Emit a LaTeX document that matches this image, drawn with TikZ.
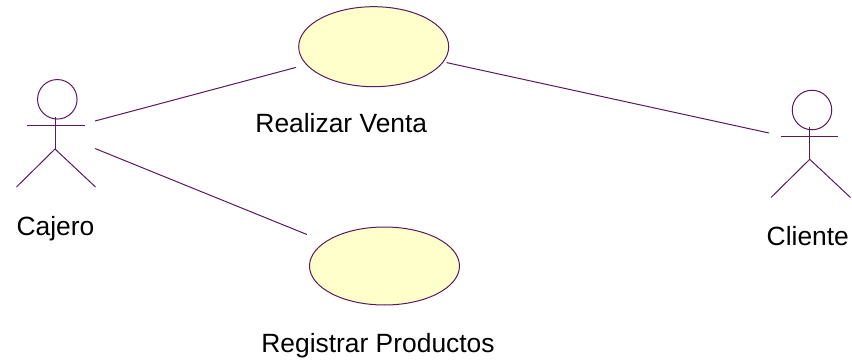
\documentclass[tikz,border=0pt]{standalone}
\usepackage{fontspec}
\setmainfont{Liberation Sans}
\usepackage{tikz}
\usetikzlibrary{positioning, shapes.geometric}
\definecolor{umlline}{HTML}{5A1A5E}
\definecolor{umlfill}{HTML}{FFFFCC}

\begin{document}
\begin{tikzpicture}
            [x=1pt, y=-1pt,
             every path/.style={draw=umlline, line width=1pt},
             usecase/.style={ellipse, draw=umlline, fill=umlfill, line width=1pt, minimum width=150pt, minimum height=80pt, inner sep=0pt},
             head/.style={circle, draw=umlline, line width=1pt, minimum size=39.5pt, inner sep=0pt},
             label/.style={font=\fontsize{26.4}{30}\selectfont, text=black, inner sep=0pt, anchor=base}]
            \useasboundingbox[draw=none] (0,0) rectangle (852,361);

            \node[usecase] (venta) at (373.7,46.7) {};
            \node[usecase, minimum height=78pt] (registrar) at (384.5,266) {};
            \node[label] (ventalabel) at (341.3,132.3) {Realizar Venta};
            \node[label] (registrarlabel) at (378,352.7) {Registrar Productos};

            % cajero
            \node[head] (cajerohead) at (57.3,99.3) {};
            \coordinate (cajeroneck) at (55,116.7);
            \coordinate (cajerohip) at (55,149);
            \coordinate (cajeroarml) at (27,125);
            \coordinate (cajeroarmr) at (85,125);
            \coordinate (cajerolegl) at (16.5,187);
            \coordinate (cajerolegr) at (95.5,187);
            \coordinate (cajeroup) at (95,121);
            \coordinate (cajerodown) at (95,148.5);
            \node[label] (cajerolabel) at (55.5,235.7) {Cajero};
            \draw (cajeroneck) -- (cajerohip);
            \draw (cajeroarml) -- (cajeroarmr);
            \draw (cajerolegl) -- (cajerohip) -- (cajerolegr);

            % cliente
            \node[head] (clientehead) at (812,110) {};
            \coordinate (clienteneck) at (809.7,126.7);
            \coordinate (clientehip) at (809.7,159.3);
            \coordinate (clientearml) at (781.3,136);
            \coordinate (clientearmr) at (837.7,136);
            \coordinate (clientelegl) at (771,197.5);
            \coordinate (clientelegr) at (850.5,197.5);
            \coordinate (clientein) at (769,133);
            \node[label] (clientelabel) at (807.8,245) {Cliente};
            \draw (clienteneck) -- (clientehip);
            \draw (clientearml) -- (clientearmr);
            \draw (clientelegl) -- (clientehip) -- (clientelegr);

            \draw[shorten >=10.4pt] (cajeroup) -- (venta);
            \draw[shorten >=19.4pt] (cajerodown) -- (registrar);
            \draw[shorten <=3pt] (venta) -- (clientein);
        \end{tikzpicture}
\end{document}
